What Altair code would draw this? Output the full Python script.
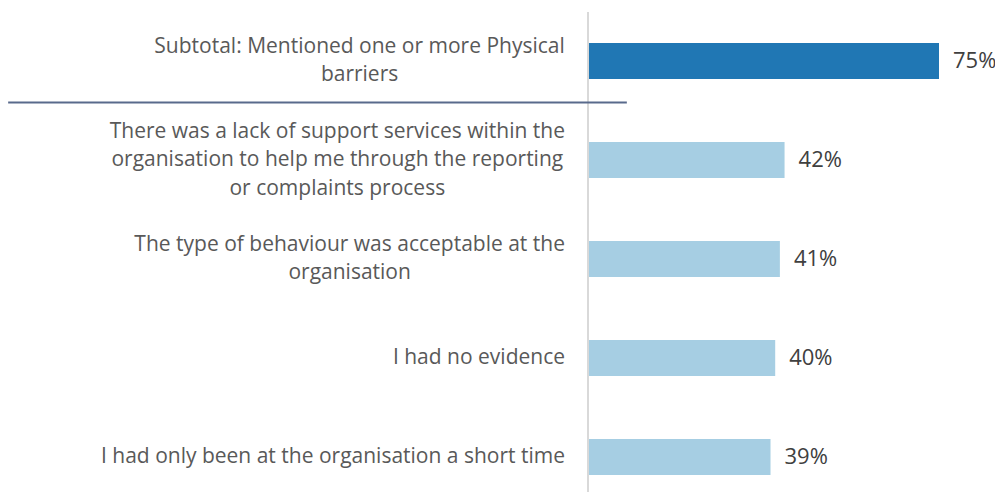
import glob
import os
import struct

import altair as alt
import pandas as pd

labels = [
    "Subtotal: Mentioned one or more Physical\nbarriers",
    "There was a lack of support services within the\norganisation to help me through the reporting\nor complaints process",
    "The type of behaviour was acceptable at the\norganisation",
    "I had no evidence",
    "I had only been at the organisation a short time",
]
values = [75, 42, 41, 40, 39]
kinds = ["subtotal", "item", "item", "item", "item"]

FONT = "Open Sans"
LABEL_SIZE = 21
LINE_H = 28.5


# ---- measure text widths from the installed font (layout helper only) ----
def _u16(d, o):
    return struct.unpack(">H", d[o:o + 2])[0]


def _u32(d, o):
    return struct.unpack(">I", d[o:o + 4])[0]


def _parse_font(path):
    d = open(path, "rb").read()
    off = _u32(d, 12) if d[:4] == b"ttcf" else 0
    ntab = _u16(d, off + 4)
    tables = {}
    for i in range(ntab):
        rec = off + 12 + 16 * i
        tables[d[rec:rec + 4].decode("latin1")] = _u32(d, rec + 8)
    upem = _u16(d, tables["head"] + 18)
    nhm = _u16(d, tables["hhea"] + 34)
    hm = tables["hmtx"]
    adv = [_u16(d, hm + 4 * i) for i in range(nhm)]
    c = tables["cmap"]
    sub = None
    for i in range(_u16(d, c + 2)):
        pid, eid = _u16(d, c + 4 + 8 * i), _u16(d, c + 6 + 8 * i)
        so = c + _u32(d, c + 8 + 8 * i)
        fmt = _u16(d, so)
        if pid == 3 and eid in (1, 10) and fmt in (4, 12):
            sub = (so, fmt)
            if fmt == 4:
                break
    cmap = {}
    so, fmt = sub
    if fmt == 4:
        segx2 = _u16(d, so + 6)
        ends = so + 14
        starts = ends + segx2 + 2
        deltas = starts + segx2
        ranges = deltas + segx2
        for i in range(segx2 // 2):
            end = _u16(d, ends + 2 * i)
            start = _u16(d, starts + 2 * i)
            delta = _u16(d, deltas + 2 * i)
            ro = _u16(d, ranges + 2 * i)
            for ch in range(max(start, 32), min(end, 126) + 1):
                if ro == 0:
                    g = (ch + delta) & 0xFFFF
                else:
                    g = _u16(d, ranges + 2 * i + ro + 2 * (ch - start))
                    if g:
                        g = (g + delta) & 0xFFFF
                cmap[ch] = g
    else:
        for j in range(_u32(d, so + 12)):
            sc, ec, sg = struct.unpack(">III", d[so + 16 + 12 * j: so + 28 + 12 * j])
            for ch in range(max(sc, 32), min(ec, 126) + 1):
                cmap[ch] = sg + ch - sc
    return {ch: adv[min(g, nhm - 1)] / upem for ch, g in cmap.items()}


def _load_font():
    roots = ["/usr/share/fonts", "/usr/local/share/fonts", os.path.expanduser("~/.fonts")]
    cands = []
    for r in roots:
        cands += glob.glob(os.path.join(r, "**", "OpenSans-Regular.ttf"), recursive=True)
    for r in roots:
        cands += [p for p in glob.glob(os.path.join(r, "**", "OpenSans*.ttf"), recursive=True)
                  if "Italic" not in p and ("wght" in p or "Regular" in p)]
    for p in cands:
        try:
            return _parse_font(p)
        except Exception:
            continue
    return None


_W = _load_font()


def text_width(s, size):
    if _W:
        return sum(_W.get(ord(ch), 0.55) for ch in s) * size
    return len(s) * 0.49 * size


df = pd.DataFrame({"label": labels, "value": values, "kind": kinds, "row": list(range(len(labels)))})
df["pct"] = df["value"].astype(str) + "%"
df["nlines"] = df["label"].str.count("\n") + 1
df["textw"] = df["label"].apply(lambda s: max(text_width(t, LABEL_SIZE) for t in s.split("\n")))

W, H = 987, 484
RIGHT = 557       # right edge of the label column (plot coords)
X0, X75 = 580, 931
Y0, Y4 = 53, 449
UNIT = (X75 - X0) / 75.0
ROWPX = (Y4 - Y0) / 4.0

x_scale = alt.Scale(domain=[0, 75], range=[X0, X75], nice=False, zero=False, padding=0)
y_scale = alt.Scale(domain=[0, 4], range=[Y0, Y4], nice=False, zero=False, padding=0)

base = alt.Chart(df)

bars = base.mark_bar(orient="horizontal", size=36).encode(
    x=alt.X("value:Q", scale=x_scale, axis=None),
    x2=alt.datum(0),
    y=alt.Y("row:Q", scale=y_scale, axis=None),
    color=alt.Color("kind:N", scale=alt.Scale(domain=["subtotal", "item"], range=["#2077B4", "#A6CEE3"]), legend=None),
)

pct = base.mark_text(align="left", baseline="middle", dx=14, font=FONT, fontSize=22, color="#404040").encode(
    x=alt.X("value:Q"),
    y=alt.Y("row:Q"),
    text="pct:N",
)

multi = base.transform_filter("datum.nlines > 1").transform_calculate(
    lx=f"({RIGHT} - datum.textw / 2 - {X0}) / {UNIT}",
    ly=f"datum.row - (datum.nlines - 1) * {LINE_H} / 2 / {ROWPX}",
).mark_text(align="center", baseline="middle", lineBreak="\n", lineHeight=LINE_H, font=FONT,
            fontSize=LABEL_SIZE, color="#595959").encode(
    x=alt.X("lx:Q"),
    y=alt.Y("ly:Q"),
    text="label:N",
)

single = base.transform_filter("datum.nlines == 1").mark_text(
    align="right", baseline="middle", font=FONT, fontSize=LABEL_SIZE, color="#595959"
).encode(
    x=alt.value(RIGHT),
    y=alt.Y("row:Q"),
    text="label:N",
)

one = alt.Chart(pd.DataFrame({"a": [0]}))
axis_line = one.mark_rule(color="#D9D9D9", strokeWidth=2).encode(
    x=alt.datum(0), y=alt.value(4), y2=alt.value(H)
)
separator = one.mark_rule(color="#596A8C", strokeWidth=2).encode(
    x=alt.datum(-123.9), x2=alt.datum(8.3), y=alt.datum(0.42)
)

chart = alt.layer(bars, axis_line, separator, pct, multi, single).properties(
    width=W, height=H, padding=0, autosize=alt.AutoSizeParams(type="none")
).configure_view(stroke=None)

chart.save("out.html", embed_options={"renderer": "svg", "actions": False})
